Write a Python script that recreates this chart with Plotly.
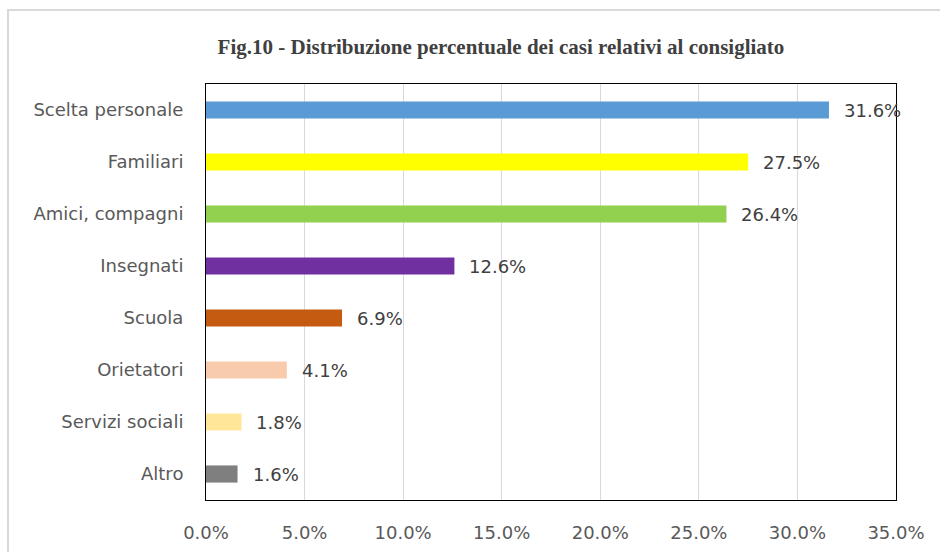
import plotly.graph_objects as go

categories = ["Scelta personale", "Familiari", "Amici, compagni", "Insegnati",
              "Scuola", "Orietatori", "Servizi sociali", "Altro"]
values = [31.6, 27.5, 26.4, 12.6, 6.9, 4.1, 1.8, 1.6]
colors = ["#5B9BD5", "#FFFF00", "#92D050", "#7030A0",
          "#C55A11", "#F8CBAD", "#FFE699", "#7F7F7F"]
tick_vals = [0, 5, 10, 15, 20, 25, 30, 35]
tick_text = ["0.0%", "5.0%", "10.0%", "15.0%", "20.0%", "25.0%", "30.0%", "35.0%"]
title_text = "Fig.10 - Distribuzione percentuale dei casi relativi al consigliato"

W, H = 940, 552
L, R, T, B = 206, 44, 84, 52
pw, ph = W - L - R, H - T - B

fig = go.Figure()
fig.add_trace(go.Bar(
    x=values, y=categories, orientation="h",
    marker=dict(color=colors, line=dict(width=0)),
    width=0.33, hoverinfo="skip",
))

for c, v in zip(categories, values):
    fig.add_annotation(x=v, y=c, xref="x", yref="y", text=f"{v:.1f}%",
                       showarrow=False, xanchor="left", yanchor="middle",
                       xshift=13, font=dict(family="DejaVu Sans", size=18, color="#404040"))

# outer chart border
fig.add_shape(type="rect", xref="paper", yref="paper",
              x0=(8 - L) / pw, x1=(W + 20 - L) / pw,
              y0=1 + (T - (H + 20)) / ph, y1=1 + (T - 10) / ph,
              line=dict(color="#D9D9D9", width=2), fillcolor="rgba(0,0,0,0)", layer="below")

fig.update_layout(
    width=W, height=H,
    margin=dict(l=L, r=R, t=T, b=B, autoexpand=False),
    paper_bgcolor="white", plot_bgcolor="white",
    showlegend=False,
    title=dict(text=f"<b>{title_text}</b>", x=501 / W, xanchor="center",
               y=1 - 47 / H, yanchor="middle", automargin=False,
               font=dict(family="Liberation Serif", size=21, color="#404040")),
    xaxis=dict(range=[0, 35], tickvals=tick_vals, ticktext=tick_text,
               showgrid=True, gridcolor="#D9D9D9", gridwidth=1,
               showline=True, linecolor="black", linewidth=1, mirror=True,
               zeroline=False, ticks="", ticklabelstandoff=16, automargin=False,
               tickfont=dict(family="DejaVu Sans", size=18, color="#595959")),
    yaxis=dict(categoryorder="array", categoryarray=categories,
               autorange="reversed", showgrid=False,
               showline=True, linecolor="black", linewidth=1, mirror=True,
               ticks="", ticklabelstandoff=18, automargin=False,
               tickfont=dict(family="DejaVu Sans", size=18, color="#595959")),
)

fig.write_html("out.html", config={"displayModeBar": False},
               post_script="document.body.style.margin='0';")
